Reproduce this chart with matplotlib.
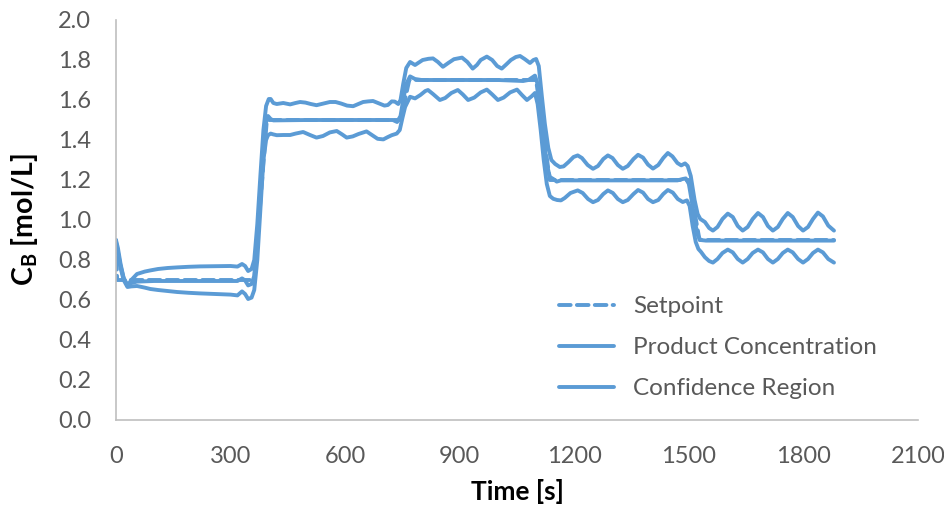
import matplotlib
matplotlib.use('Agg')
import matplotlib.pyplot as plt
from matplotlib.ticker import FormatStrFormatter, MultipleLocator

plt.rcParams.update({
    'font.family': ['Lato', 'DejaVu Sans'],
    'mathtext.fontset': 'custom',
    'mathtext.rm': 'Lato',
    'mathtext.bf': 'Lato:bold',
})

BLUE = '#5B9BD5'
TEXT = '#595959'

# --- data (time in s, concentration in mol/L) ---
SP_T = [0, 3, 362, 395, 745, 768, 1100, 1136, 1500, 1528, 1880]
SP_V = [0.90, 0.70, 0.70, 1.50, 1.50, 1.70, 1.70, 1.20, 1.20, 0.90, 0.90]

PC_T = [0, 5, 12, 20, 30, 40, 55, 100, 200, 318, 330, 338, 346, 355, 362, 370,
        378, 386, 393, 398, 405, 412, 500, 600, 725, 736, 745, 752, 760, 770,
        783, 800, 900, 1000, 1066, 1080, 1097, 1104, 1112, 1120, 1128, 1136,
        1145, 1154, 1165, 1300, 1470, 1484, 1492, 1500, 1508, 1516, 1523, 1530,
        1545, 1880]
PC_V = [0.89, 0.84, 0.77, 0.71, 0.675, 0.685, 0.692, 0.695, 0.695, 0.695, 0.708,
        0.698, 0.673, 0.680, 0.72, 0.90, 1.15, 1.38, 1.49, 1.52, 1.505, 1.498,
        1.500, 1.500, 1.500, 1.490, 1.52, 1.60, 1.68, 1.718, 1.705, 1.700, 1.700,
        1.700, 1.695, 1.700, 1.722, 1.68, 1.55, 1.40, 1.28, 1.215, 1.205, 1.192,
        1.198, 1.198, 1.198, 1.205, 1.208, 1.18, 1.09, 0.99, 0.925, 0.900, 0.897,
        0.897]

UP_T = [0, 5, 12, 20, 30, 40, 55, 75, 90, 110, 135, 160, 190, 220, 260, 300,
        318, 330, 338, 346, 355, 362, 370, 378, 386, 393, 400, 405, 412, 421,
        438, 456, 470, 482, 496, 510, 525, 542, 560, 575, 590, 605, 621, 635,
        647, 660, 673, 690, 703, 712, 722, 730, 739, 745, 752, 760, 770, 783,
        803, 818, 830, 843, 856, 870, 885, 906, 920, 934, 945, 955, 971, 985,
        998, 1010, 1022, 1034, 1047, 1058, 1070, 1084, 1093, 1100, 1107, 1115,
        1123, 1132, 1140, 1150, 1162, 1172, 1185, 1198, 1209, 1220, 1235, 1249,
        1262, 1276, 1288, 1300, 1314, 1327, 1340, 1355, 1367, 1380, 1393, 1406,
        1420, 1433, 1445, 1457, 1470, 1480, 1490, 1497, 1505, 1515, 1523, 1530,
        1542, 1553, 1563, 1575, 1588, 1602, 1615, 1628, 1641, 1654, 1667, 1681,
        1694, 1707, 1720, 1733, 1746, 1759, 1772, 1786, 1799, 1812, 1825, 1838,
        1851, 1865, 1880]
UP_V = [0.90, 0.86, 0.78, 0.71, 0.67, 0.70, 0.73, 0.742, 0.748, 0.755, 0.760,
        0.763, 0.766, 0.768, 0.769, 0.770, 0.767, 0.780, 0.770, 0.745, 0.755,
        0.80, 0.98, 1.22, 1.45, 1.57, 1.605, 1.605, 1.585, 1.580, 1.585, 1.578,
        1.585, 1.590, 1.587, 1.580, 1.574, 1.582, 1.590, 1.590, 1.582, 1.572,
        1.569, 1.580, 1.590, 1.593, 1.595, 1.582, 1.572, 1.575, 1.593, 1.592,
        1.580, 1.600, 1.680, 1.760, 1.790, 1.775, 1.800, 1.806, 1.808, 1.790,
        1.766, 1.785, 1.804, 1.812, 1.790, 1.757, 1.775, 1.800, 1.817, 1.800,
        1.770, 1.757, 1.778, 1.800, 1.815, 1.820, 1.805, 1.785, 1.800, 1.805,
        1.770, 1.620, 1.480, 1.360, 1.300, 1.280, 1.265, 1.268, 1.290, 1.315,
        1.323, 1.310, 1.275, 1.256, 1.270, 1.305, 1.323, 1.310, 1.275, 1.256,
        1.270, 1.305, 1.326, 1.312, 1.277, 1.257, 1.275, 1.310, 1.335, 1.318,
        1.285, 1.273, 1.283, 1.270, 1.220, 1.100, 1.030, 1.005, 0.990, 0.960,
        0.947, 0.965, 1.005, 1.032, 1.015, 0.970, 0.947, 0.965, 1.005, 1.035,
        1.015, 0.970, 0.947, 0.965, 1.005, 1.035, 1.015, 0.970, 0.947, 0.965,
        1.005, 1.037, 1.018, 0.972, 0.947]

LO_T = [0, 5, 12, 20, 30, 40, 55, 75, 90, 110, 135, 160, 190, 220, 260, 300,
        318, 330, 338, 346, 355, 362, 370, 378, 386, 393, 398, 405, 412, 421,
        438, 456, 470, 490, 508, 525, 542, 560, 578, 592, 604, 620, 635, 656,
        670, 685, 700, 712, 722, 735, 743, 750, 757, 770, 783, 797, 810, 817,
        830, 848, 862, 878, 895, 908, 922, 938, 955, 971, 985, 1000, 1015, 1032,
        1050, 1063, 1076, 1088, 1097, 1104, 1112, 1120, 1128, 1136, 1145, 1155,
        1165, 1175, 1190, 1209, 1222, 1236, 1249, 1262, 1276, 1288, 1301, 1314,
        1327, 1340, 1355, 1367, 1380, 1393, 1406, 1420, 1433, 1445, 1458, 1471,
        1484, 1495, 1502, 1510, 1518, 1525, 1532, 1542, 1553, 1563, 1575, 1588,
        1602, 1615, 1628, 1641, 1654, 1667, 1681, 1694, 1707, 1720, 1733, 1746,
        1759, 1772, 1786, 1799, 1812, 1825, 1838, 1851, 1865, 1880]
LO_V = [0.87, 0.83, 0.76, 0.70, 0.665, 0.668, 0.670, 0.662, 0.655, 0.650, 0.645,
        0.640, 0.636, 0.633, 0.630, 0.627, 0.623, 0.643, 0.630, 0.605, 0.612,
        0.65, 0.80, 1.05, 1.30, 1.40, 1.424, 1.432, 1.428, 1.424, 1.425, 1.425,
        1.432, 1.440, 1.425, 1.412, 1.420, 1.438, 1.445, 1.428, 1.412, 1.418,
        1.430, 1.443, 1.425, 1.406, 1.403, 1.415, 1.424, 1.432, 1.450, 1.510,
        1.565, 1.616, 1.608, 1.625, 1.645, 1.650, 1.630, 1.600, 1.610, 1.635,
        1.650, 1.628, 1.600, 1.612, 1.638, 1.652, 1.628, 1.600, 1.612, 1.638,
        1.652, 1.625, 1.600, 1.618, 1.635, 1.580, 1.450, 1.300, 1.180, 1.120,
        1.106, 1.100, 1.098, 1.110, 1.135, 1.148, 1.135, 1.105, 1.089, 1.100,
        1.130, 1.148, 1.135, 1.105, 1.089, 1.100, 1.130, 1.150, 1.137, 1.105,
        1.089, 1.100, 1.130, 1.150, 1.137, 1.105, 1.090, 1.098, 1.070, 0.970,
        0.890, 0.855, 0.840, 0.814, 0.795, 0.787, 0.805, 0.835, 0.852, 0.838,
        0.805, 0.787, 0.805, 0.835, 0.852, 0.838, 0.805, 0.787, 0.805, 0.835,
        0.852, 0.838, 0.805, 0.787, 0.805, 0.835, 0.852, 0.838, 0.805, 0.787]

X_TICKS = [0, 300, 600, 900, 1200, 1500, 1800, 2100]


fig = plt.figure(figsize=(9.45, 5.08), dpi=100)
ax = fig.add_axes([116 / 945, 1 - 420 / 508, 802 / 945, 400 / 508])

lw = 2.8
ax.plot(SP_T, SP_V, color=BLUE, lw=lw, ls=(0, (3, 1.6)), label='Setpoint',
        solid_capstyle='round', dash_capstyle='round')
ax.plot(UP_T, UP_V, color=BLUE, lw=lw, solid_joinstyle='round',
        solid_capstyle='round', label='Confidence Region')
ax.plot(LO_T, LO_V, color=BLUE, lw=lw, solid_joinstyle='round',
        solid_capstyle='round')
ax.plot(PC_T, PC_V, color=BLUE, lw=lw, solid_joinstyle='round',
        solid_capstyle='round', label='Product Concentration')

ax.set_xlim(0, 2100)
ax.set_ylim(0, 2.0)
ax.set_xticks(X_TICKS)
ax.yaxis.set_major_locator(MultipleLocator(0.2))
ax.yaxis.set_major_formatter(FormatStrFormatter('%.1f'))
ax.tick_params(length=0, labelsize=17, labelcolor=TEXT)
ax.tick_params(axis='y', pad=18)
ax.tick_params(axis='x', pad=19)

for side in ('top', 'right'):
    ax.spines[side].set_visible(False)
for side in ('left', 'bottom'):
    ax.spines[side].set_color('#BFBFBF')
    ax.spines[side].set_linewidth(1.2)

ax.set_xlabel('Time [s]', fontsize=19, fontweight='bold', color='black', labelpad=8)
ax.set_ylabel(r'C$_\mathbf{B}$ [mol/L]', fontsize=20.5, fontweight='bold',
              color='black', labelpad=13)

handles, labels = ax.get_legend_handles_labels()
order = [labels.index(n) for n in ('Setpoint', 'Product Concentration', 'Confidence Region')]
leg = ax.legend([handles[i] for i in order], [labels[i] for i in order],
                loc='upper left', bbox_to_anchor=(0.537, 0.34), frameon=False,
                fontsize=17.5, handlelength=2.25, handletextpad=0.8,
                labelspacing=0.82, borderpad=0)
for t in leg.get_texts():
    t.set_color(TEXT)

fig.savefig('out.png', dpi=100)
